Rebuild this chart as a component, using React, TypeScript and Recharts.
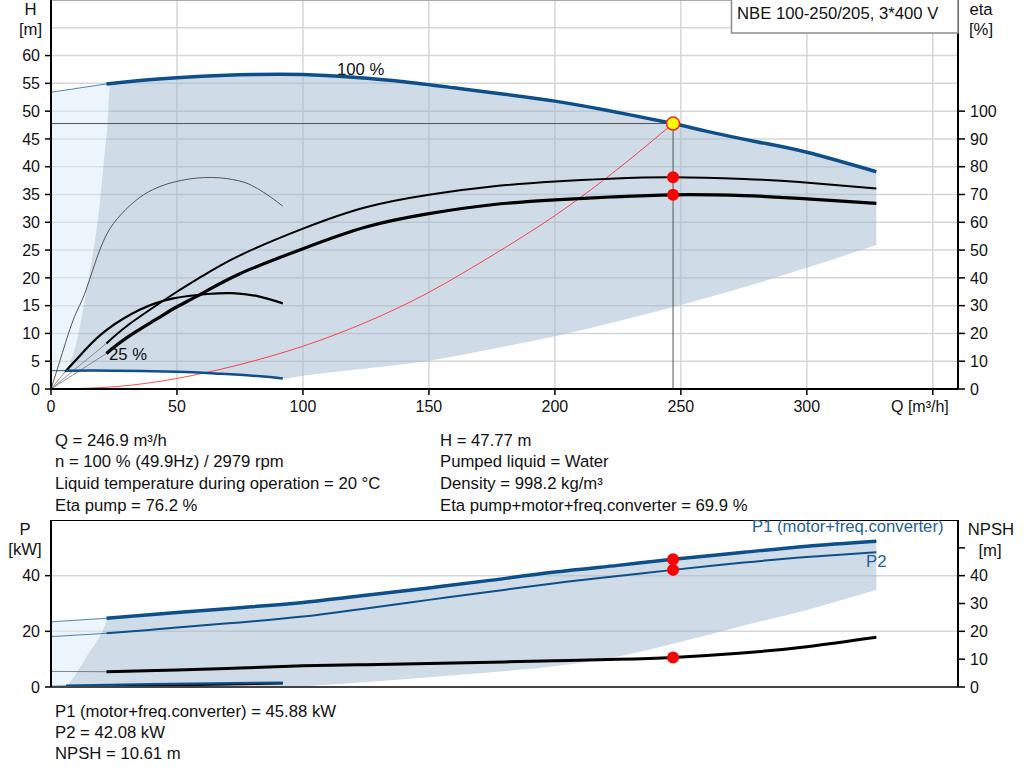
import React from 'react'
import { ComposedChart, XAxis, YAxis, CartesianGrid, Line, Area, ReferenceLine } from 'recharts'

// ---------------------------------------------------------------------------
// Axis ticks
// ---------------------------------------------------------------------------

const Q_TICKS = [0, 50, 100, 150, 200, 250, 300, 350]
const H_TICKS = [0, 5, 10, 15, 20, 25, 30, 35, 40, 45, 50, 55, 60]
const H_GRID = [5, 10, 15, 20, 25, 30, 35, 40, 45, 50, 55, 60, 65, 70]
const ETA_TICKS = [0, 10, 20, 30, 40, 50, 60, 70, 80, 90, 100]
const P_TICKS = [0, 20, 40]
const P_GRID = [20, 40]
const NPSH_TICKS = [0, 10, 20, 30, 40, 50]

// ---------------------------------------------------------------------------
// Q-H diagram  [Q m3/h, H m]  /  [Q, eta %]  /  [Q, low, high]
// ---------------------------------------------------------------------------

const H100_EXT = [[0, 53.4], [22, 54.9]]
const H100 = [
  [22, 54.9], [40, 55.7], [60, 56.3], [80, 56.6], [100, 56.6], [120, 56.1], [140, 55.3],
  [160, 54.2], [180, 53.05], [200, 51.8], [220, 50.2], [246.9, 47.77], [260, 46.4],
  [280, 44.5], [300, 42.6], [327.6, 39.1],
]
const H25_EXT = [[0, 3.3], [6, 3.3]]
const H25 = [[6, 3.3], [25, 3.3], [50, 3.1], [65, 2.8], [80, 2.4], [92, 1.9]]

const SYSTEM_CURVE = [
  [0, 0], [25, 0.4], [50, 1.9], [75, 4.4], [100, 7.7], [125, 12.0], [150, 17.4],
  [175, 24.0], [200, 31.2], [225, 39.6], [246.9, 47.77],
]
const DUTY_LINES = [[0, 47.77], [246.9, 47.77], [246.9, 0]]

const ETA_PUMP_25 = [
  [0, 0], [4, 11.5], [8.8, 24.8], [12.8, 33], [17, 44], [22, 55.5], [28, 63], [35, 68.8],
  [42, 72.4], [48.5, 74.4], [55, 75.6], [61, 76.1], [67, 76], [72, 75.4], [77, 74.3],
  [82, 72.1], [87, 69.2], [92, 65.8],
]
const ETA_TOTAL_25_EXT = [[0, 0], [5.6, 6.2]]
const ETA_TOTAL_25 = [
  [5.6, 6.2], [14, 14.5], [22, 21.2], [35, 28.4], [48.5, 32.6], [62, 34.2], [72, 34.5],
  [82, 33.4], [92, 30.8],
]
const ETA_PUMP_EXT = [[0, 0], [22, 16.4]]
const ETA_PUMP = [
  [22, 16.4], [30, 22.6], [42, 30.2], [50, 35.0], [60, 40.6], [75, 48.1], [100, 57.7],
  [125, 65.4], [150, 69.9], [175, 72.9], [200, 74.7], [222, 75.7], [246.9, 76.2],
  [275, 75.6], [297, 74.5], [327.6, 72.2],
]
const ETA_TOTAL_EXT = [[0, 0], [22, 12.8]]
const ETA_TOTAL = [
  [22, 12.8], [30, 18.4], [42, 25.2], [50, 29.6], [60, 34.4], [75, 41.5], [100, 50.5],
  [125, 58.3], [150, 63.1], [175, 66.3], [200, 68.1], [222, 69.1], [246.9, 69.9],
  [275, 69.6], [297, 68.6], [327.6, 66.8],
]

const TOP_LIGHT = [
  [0, 3.3, 53.4], [6, 3.3, 53.8], [8, 5.2, 53.9], [10, 8.2, 54.0], [12, 12.5, 54.2],
  [14, 17.5, 54.3], [16.5, 24, 54.5], [19, 32, 54.6], [21, 41, 54.8], [22.5, 48, 54.9],
  [23.5, 54.95, 54.95],
]
const TOP_DARK = [
  [6, 3.3, 3.3], [8, 3.3, 5.2], [10, 3.3, 8.2], [12, 3.3, 12.5], [14, 3.3, 17.5],
  [16.5, 3.3, 24], [19, 3.3, 32], [21, 3.3, 41], [22.5, 3.3, 48], [23.5, 3.3, 54.95],
  [40, 3.2, 55.7], [60, 2.9, 56.3], [80, 2.4, 56.6], [92, 1.9, 56.6], [100, 2.4, 56.6],
  [125, 3.7, 55.9], [150, 5.1, 54.75], [175, 7.2, 53.3], [200, 9.5, 51.8], [225, 12.2, 49.7],
  [250, 15.1, 47.5], [275, 18.3, 45.0], [300, 21.8, 42.6], [327.6, 25.9, 39.1],
]

const DUTY_H = [[246.9, 47.77]]
const DUTY_ETA = [[246.9, 76.2], [246.9, 69.9]]

// ---------------------------------------------------------------------------
// Power / NPSH diagram  [Q, P kW]  /  [Q, NPSH m]
// ---------------------------------------------------------------------------

const P1_EXT = [[0, 23.4], [22, 24.7]]
const P1 = [
  [22, 24.7], [50, 26.8], [75, 28.5], [100, 30.4], [125, 33.0], [150, 35.6], [175, 38.4],
  [200, 41.3], [225, 43.7], [246.9, 45.88], [275, 48.4], [300, 50.6], [327.6, 52.4],
]
const P2_EXT = [[0, 18.1], [22, 19.3]]
const P2 = [
  [22, 19.3], [39, 20.5], [50, 21.4], [75, 23.2], [100, 25.3], [125, 28.2], [150, 31.3],
  [175, 34.3], [200, 37.3], [225, 39.9], [246.9, 42.08], [275, 44.7], [300, 46.7],
  [327.6, 48.4],
]
const NPSH_EXT = [[0, 5.6], [22, 5.5]]
const NPSH = [
  [22, 5.5], [50, 6.1], [75, 6.8], [100, 7.6], [125, 8.0], [150, 8.4], [175, 8.9],
  [200, 9.4], [225, 9.95], [246.9, 10.61], [273, 12.1], [300, 14.5], [327.6, 17.9],
]
const P1_25_EXT = [[0, 0.3], [6, 0.4]]
const P1_25 = [[6, 0.5], [40, 1.0], [92, 1.6]]
const P2_25 = [[6, 0.15], [40, 0.5], [92, 1.3]]

const BOTTOM_LIGHT = [
  [0, 0, 23.4], [6.2, 0, 23.7], [9, 3.5, 23.9], [11.5, 7, 24.0], [14.1, 10.9, 24.2],
  [19.4, 18.1, 24.5], [23.5, 24.8, 24.8],
]
const BOTTOM_DARK = [
  [6.2, 0, 0], [9, 0, 3.5], [11.5, 0, 7], [14.1, 0, 10.9], [19.4, 0, 18.1], [23.5, 0, 24.8],
  [50, 0, 26.8], [75, 0, 28.5], [92, 0, 29.8], [100, 0.3, 30.4], [125, 1.8, 33.0],
  [150, 3.5, 35.6], [175, 5.3, 38.4], [200, 7.5, 41.3], [225, 11.0, 43.7], [250, 16.3, 46.2],
  [275, 22.1, 48.4], [300, 27.7, 50.6], [327.6, 34.9, 52.4],
]

const DUTY_P = [[246.9, 45.88], [246.9, 42.08]]
const DUTY_NPSH = [[246.9, 10.61]]

const INFO_LEFT = [
  'Q = 246.9 m³/h',
  'n = 100 % (49.9Hz) / 2979 rpm',
  'Liquid temperature during operation = 20 °C',
  'Eta pump = 76.2 %',
]
const INFO_RIGHT = [
  'H = 47.77 m',
  'Pumped liquid = Water',
  'Density = 998.2 kg/m³',
  'Eta pump+motor+freq.converter = 69.9 %',
]
const INFO_BOTTOM = [
  'P1 (motor+freq.converter) = 45.88 kW',
  'P2 = 42.08 kW',
  'NPSH = 10.61 m',
]

// ---------------------------------------------------------------------------
// Styling
// ---------------------------------------------------------------------------

const FONT = "'Liberation Sans', Arial, Helvetica, sans-serif"
const BLUE = '#0d4f8b'
const LABEL_BLUE = '#25609b'
const GRID = '#d6d6d6'
const TICK = { fill: '#111', fontSize: 16 }
const AXIS = { stroke: '#000', strokeWidth: 2 }
const TEXT_SIZE = 16.7

const pts = (rows: number[][]) => rows.map(([q, v]) => ({ q, v }))
const rng = (rows: number[][]) => rows.map(([q, lo, hi]) => ({ q, r: [lo, hi] }))

const curve = (
  id: string,
  rows: number[][],
  axis: string,
  color: string,
  width: number,
  type: 'natural' | 'linear' = 'natural',
  opacity = 1,
) => (
  <Line
    key={id}
    yAxisId={axis}
    data={pts(rows)}
    dataKey="v"
    type={type}
    stroke={color}
    strokeWidth={width}
    strokeOpacity={opacity}
    dot={false}
    activeDot={false}
    isAnimationActive={false}
  />
)

const dots = (id: string, rows: number[][], axis: string, fill: string, stroke: string, r: number) => (
  <Line
    key={id}
    yAxisId={axis}
    data={pts(rows)}
    dataKey="v"
    stroke="none"
    dot={{ r, fill, stroke, strokeWidth: 1.5 }}
    activeDot={false}
    isAnimationActive={false}
  />
)

const region = (id: string, rows: number[][], axis: string, fill: string) => (
  <Area
    key={id}
    yAxisId={axis}
    data={rng(rows)}
    dataKey="r"
    type="monotone"
    stroke="none"
    fill={fill}
    fillOpacity={0.5}
    isAnimationActive={false}
  />
)

const qTick = (p: any) => {
  const v = p.payload.value
  if (v === 350) {
    return (
      <text x={p.x + 16} y={p.y} dy="0.71em" textAnchor="end" {...TICK}>
        Q [m³/h]
      </text>
    )
  }
  return (
    <text x={p.x} y={p.y} dy="0.71em" textAnchor="middle" {...TICK}>
      {v}
    </text>
  )
}

const npshTick = (p: any) =>
  p.payload.value === 50 ? (
    <g />
  ) : (
    <text x={p.x} y={p.y} dy="0.355em" textAnchor="start" {...TICK}>
      {p.payload.value}
    </text>
  )

// ---------------------------------------------------------------------------
// Component
// ---------------------------------------------------------------------------

export default function App() {
  return (
    <div style={{ position: 'absolute', left: 0, top: 0, width: 1024, height: 781, fontFamily: FONT, background: '#fff' }}>
      {/* Q-H / eta diagram */}
      <div style={{ position: 'absolute', left: 0, top: 0 }}>
        <ComposedChart width={1024} height={420} margin={{ top: 0, right: 0, bottom: 0, left: 0 }}>
          <CartesianGrid yAxisId="h" stroke={GRID} strokeWidth={1.5} horizontalValues={H_GRID} verticalValues={Q_TICKS} />
          <XAxis
            type="number"
            dataKey="q"
            domain={[0, 360]}
            ticks={Q_TICKS}
            interval={0}
            allowDataOverflow
            height={31}
            tickSize={6}
            tickMargin={6}
            axisLine={AXIS}
            tickLine={{ stroke: '#000', strokeWidth: 1.5 }}
            tick={qTick}
          />
          <YAxis
            yAxisId="h"
            domain={[0, 70]}
            ticks={H_TICKS}
            interval={0}
            allowDataOverflow
            width={51}
            tickSize={6}
            tickMargin={5}
            axisLine={AXIS}
            tickLine={{ stroke: '#000', strokeWidth: 1.5 }}
            tick={TICK}
          />
          <YAxis
            yAxisId="eta"
            orientation="right"
            domain={[0, 140]}
            ticks={ETA_TICKS}
            interval={0}
            allowDataOverflow
            width={66}
            tickSize={7}
            tickMargin={5}
            axisLine={AXIS}
            tickLine={{ stroke: '#000', strokeWidth: 1.5 }}
            tick={TICK}
          />
          <ReferenceLine yAxisId="h" y={70} stroke="#999" strokeWidth={1.5} />

          {region('topLight', TOP_LIGHT, 'h', '#dcebf9')}
          {region('topDark', TOP_DARK, 'h', '#9fb8cf')}

          {curve('system', SYSTEM_CURVE, 'h', '#ff2020', 1, 'natural', 0.8)}
          {curve('duty', DUTY_LINES, 'h', '#555', 1, 'linear')}

          {curve('etaPump25', ETA_PUMP_25, 'eta', '#555', 1)}
          {curve('etaTotal25Ext', ETA_TOTAL_25_EXT, 'eta', '#777', 0.8, 'linear')}
          {curve('etaTotal25', ETA_TOTAL_25, 'eta', '#000', 2.2)}
          {curve('etaPumpExt', ETA_PUMP_EXT, 'eta', '#777', 0.8, 'linear')}
          {curve('etaPump', ETA_PUMP, 'eta', '#000', 2)}
          {curve('etaTotalExt', ETA_TOTAL_EXT, 'eta', '#777', 0.8, 'linear')}
          {curve('etaTotal', ETA_TOTAL, 'eta', '#000', 3.2)}

          {curve('h100Ext', H100_EXT, 'h', BLUE, 1, 'linear', 0.7)}
          {curve('h100', H100, 'h', BLUE, 3.5)}
          {curve('h25Ext', H25_EXT, 'h', BLUE, 1.2, 'linear', 0.8)}
          {curve('h25', H25, 'h', BLUE, 2.5)}

          {dots('dutyEta', DUTY_ETA, 'eta', '#ff0000', 'none', 6)}
          {dots('dutyH', DUTY_H, 'h', '#ffff00', '#ff2020', 6.5)}
        </ComposedChart>
      </div>

      {/* Power / NPSH diagram */}
      <div style={{ position: 'absolute', left: 0, top: 520 }}>
        <ComposedChart width={1024} height={182} margin={{ top: 0, right: 0, bottom: 0, left: 0 }}>
          <CartesianGrid yAxisId="p" stroke={GRID} strokeWidth={1.5} horizontalValues={P_GRID} verticalValues={Q_TICKS} />
          <XAxis
            type="number"
            dataKey="q"
            domain={[0, 360]}
            ticks={Q_TICKS}
            interval={0}
            allowDataOverflow
            height={15}
            tick={false}
            tickLine={false}
            axisLine={{ stroke: '#444', strokeWidth: 2 }}
          />
          <YAxis
            yAxisId="p"
            domain={[0, 60]}
            ticks={P_TICKS}
            interval={0}
            allowDataOverflow
            width={51}
            tickSize={6}
            tickMargin={5}
            axisLine={AXIS}
            tickLine={{ stroke: '#000', strokeWidth: 1.5 }}
            tick={TICK}
          />
          <YAxis
            yAxisId="n"
            orientation="right"
            domain={[0, 60]}
            ticks={NPSH_TICKS}
            interval={0}
            allowDataOverflow
            width={66}
            tickSize={7}
            tickMargin={5}
            axisLine={AXIS}
            tickLine={{ stroke: '#000', strokeWidth: 1.5 }}
            tick={npshTick}
          />
          <ReferenceLine yAxisId="p" y={60} stroke="#000" strokeWidth={2} />

          {region('botLight', BOTTOM_LIGHT, 'p', '#dcebf9')}
          {region('botDark', BOTTOM_DARK, 'p', '#9fb8cf')}

          {curve('p25b', P2_25, 'p', '#000', 2.2)}
          {curve('p25Ext', P1_25_EXT, 'p', BLUE, 1, 'linear', 0.7)}
          {curve('p25', P1_25, 'p', BLUE, 2.2)}

          {curve('npshExt', NPSH_EXT, 'n', '#555', 1, 'linear', 0.7)}
          {curve('npsh', NPSH, 'n', '#000', 3)}
          {curve('p2Ext', P2_EXT, 'p', BLUE, 1, 'linear', 0.7)}
          {curve('p2', P2, 'p', BLUE, 2)}
          {curve('p1Ext', P1_EXT, 'p', BLUE, 1, 'linear', 0.7)}
          {curve('p1', P1, 'p', BLUE, 3.5)}

          {dots('dutyP', DUTY_P, 'p', '#ff0000', 'none', 6)}
          {dots('dutyN', DUTY_NPSH, 'n', '#ff0000', 'none', 6)}
        </ComposedChart>
      </div>

      {/* Axis titles, curve labels and operating data */}
      <svg
        width={1024}
        height={781}
        style={{ position: 'absolute', left: 0, top: 0, pointerEvents: 'none' }}
        fontFamily={FONT}
        fontSize={TEXT_SIZE}
        fill="#111"
      >
        <rect x={731.5} y={-1} width={226.5} height={34} fill="#fff" stroke="#8c8c8c" strokeWidth={1.5} />
        <text x={737} y={19}>NBE 100-250/205, 3*400 V</text>

        <text x={30.5} y={15} textAnchor="middle">H</text>
        <text x={30.5} y={35} textAnchor="middle">[m]</text>
        <text x={981} y={15} textAnchor="middle">eta</text>
        <text x={981} y={35} textAnchor="middle">[%]</text>
        <text x={337} y={75}>100 %</text>
        <text x={109} y={360}>25 %</text>

        <text x={25} y={535} textAnchor="middle">P</text>
        <text x={25} y={555} textAnchor="middle">[kW]</text>
        <text x={991} y={535} textAnchor="middle">NPSH</text>
        <text x={990} y={556} textAnchor="middle">[m]</text>
        <text x={752} y={532} fill={LABEL_BLUE}>P1 (motor+freq.converter)</text>
        <text x={866} y={567} fill={LABEL_BLUE}>P2</text>

        {INFO_LEFT.map((t, i) => (
          <text key={`l${i}`} x={55} y={445.5 + i * 21.7}>{t}</text>
        ))}
        {INFO_RIGHT.map((t, i) => (
          <text key={`r${i}`} x={440} y={445.5 + i * 21.7}>{t}</text>
        ))}
        {INFO_BOTTOM.map((t, i) => (
          <text key={`b${i}`} x={55} y={716.5 + i * 21}>{t}</text>
        ))}
      </svg>
    </div>
  )
}
